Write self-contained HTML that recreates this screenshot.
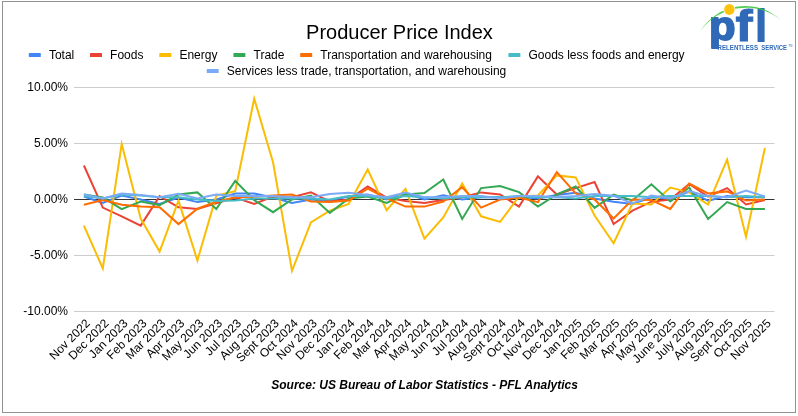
<!DOCTYPE html>
<html lang="en"><head><meta charset="utf-8"><title>Producer Price Index</title>
<style>html,body{margin:0;padding:0;background:#fff}body{width:798px;height:416px;overflow:hidden}svg{display:block}text{font-family:"Liberation Sans",Arial,sans-serif}</style></head><body>
<svg width="798" height="416" viewBox="0 0 798 416">
<rect x="0" y="0" width="798" height="416" fill="#fff"/>
<rect x="2.5" y="1.5" width="793" height="411" fill="none" stroke="#929292" stroke-width="1"/>
<text x="399.5" y="39" font-size="20" text-anchor="middle" fill="#000">Producer Price Index</text>
<rect x="28.8" y="53.1" width="12" height="4" rx="0.6" fill="#4285f4"/>
<text x="48.9" y="59.0" font-size="12" fill="#000">Total</text>
<rect x="90" y="53.1" width="12" height="4" rx="0.6" fill="#ea4335"/>
<text x="110.1" y="59.0" font-size="12" fill="#000">Foods</text>
<rect x="159.3" y="53.1" width="12" height="4" rx="0.6" fill="#fbbc04"/>
<text x="179.4" y="59.0" font-size="12" fill="#000">Energy</text>
<rect x="233.4" y="53.1" width="12" height="4" rx="0.6" fill="#34a853"/>
<text x="253.5" y="59.0" font-size="12" fill="#000">Trade</text>
<rect x="300.2" y="53.1" width="12" height="4" rx="0.6" fill="#ff6d01"/>
<text x="320.3" y="59.0" font-size="12" fill="#000">Transportation and warehousing</text>
<rect x="508.4" y="53.1" width="12" height="4" rx="0.6" fill="#46bdc6"/>
<text x="528.5" y="59.0" font-size="12" fill="#000">Goods less foods and energy</text>
<rect x="206.7" y="69.1" width="12" height="4" rx="0.6" fill="#7baaf7"/>
<text x="226.8" y="75.0" font-size="12" fill="#000">Services less trade, transportation, and warehousing</text>
<rect x="74" y="87.0" width="700.5" height="1" fill="#cccccc"/>
<rect x="74" y="143.0" width="700.5" height="1" fill="#cccccc"/>
<rect x="74" y="255.0" width="700.5" height="1" fill="#cccccc"/>
<rect x="74" y="311.0" width="700.5" height="1" fill="#cccccc"/>
<rect x="74" y="199.0" width="700.5" height="1" fill="#333333"/>
<text x="68" y="91.3" font-size="12" text-anchor="end" fill="#000">10.00%</text>
<text x="68" y="147.3" font-size="12" text-anchor="end" fill="#000">5.00%</text>
<text x="68" y="203.3" font-size="12" text-anchor="end" fill="#000">0.00%</text>
<text x="68" y="259.3" font-size="12" text-anchor="end" fill="#000">-5.00%</text>
<text x="68" y="315.3" font-size="12" text-anchor="end" fill="#000">-10.00%</text>
<polyline points="83.9,196.5 102.8,202.9 121.7,195.5 140.7,199.5 159.6,204.0 178.5,197.5 197.4,202.1 216.3,199.5 235.2,193.5 254.2,193.5 273.1,197.5 292.0,202.9 310.9,199.5 329.8,200.4 348.7,196.5 367.7,194.5 386.6,199.5 405.5,193.0 424.4,199.5 443.3,195.2 462.2,199.5 481.1,197.3 500.1,197.3 519.0,196.7 537.9,198.4 556.8,195.0 575.7,192.8 594.6,198.4 613.6,201.7 632.5,204.0 651.4,197.3 670.3,198.4 689.2,191.7 708.1,200.6 727.1,196.1 746.0,197.3 764.9,197.3" fill="none" stroke="#4285f4" stroke-width="2" stroke-linejoin="miter" stroke-miterlimit="10"/>
<polyline points="83.9,165.5 102.8,207.6 121.7,216.3 140.7,225.6 159.6,196.1 178.5,207.3 197.4,209.0 216.3,203.4 235.2,197.5 254.2,204.0 273.1,196.5 292.0,197.3 310.9,192.4 329.8,201.5 348.7,199.5 367.7,186.4 386.6,197.5 405.5,201.0 424.4,202.9 443.3,200.1 462.2,197.3 481.1,192.4 500.1,194.5 519.0,206.6 537.9,176.4 556.8,194.5 575.7,188.1 594.6,182.0 613.6,224.1 632.5,210.7 651.4,201.7 670.3,199.5 689.2,184.0 708.1,196.5 727.1,188.1 746.0,204.5 764.9,200.1" fill="none" stroke="#ea4335" stroke-width="2" stroke-linejoin="miter" stroke-miterlimit="10"/>
<polyline points="83.9,225.6 102.8,268.4 121.7,144.1 140.7,218.5 159.6,251.6 178.5,200.6 197.4,260.5 216.3,195.6 235.2,191.1 254.2,98.7 273.1,162.5 292.0,270.8 310.9,222.5 329.8,210.7 348.7,204.0 367.7,169.5 386.6,210.1 405.5,188.9 424.4,238.7 443.3,217.4 462.2,183.5 481.1,216.3 500.1,221.9 519.0,196.5 537.9,195.5 556.8,175.4 575.7,177.4 594.6,215.5 613.6,243.2 632.5,203.5 651.4,204.5 670.3,187.5 689.2,192.4 708.1,204.5 727.1,159.7 746.0,236.8 764.9,148.0" fill="none" stroke="#fbbc04" stroke-width="2" stroke-linejoin="miter" stroke-miterlimit="10"/>
<polyline points="83.9,194.5 102.8,197.5 121.7,209.2 140.7,201.5 159.6,205.1 178.5,194.5 197.4,192.4 216.3,209.0 235.2,180.9 254.2,200.1 273.1,212.2 292.0,199.5 310.9,195.5 329.8,212.9 348.7,198.4 367.7,196.5 386.6,202.9 405.5,194.5 424.4,193.0 443.3,179.5 462.2,218.9 481.1,188.1 500.1,186.1 519.0,192.1 537.9,206.6 556.8,194.5 575.7,186.5 594.6,207.9 613.6,194.7 632.5,200.4 651.4,184.3 670.3,201.5 689.2,187.5 708.1,218.9 727.1,202.1 746.0,208.9 764.9,208.9" fill="none" stroke="#34a853" stroke-width="2" stroke-linejoin="miter" stroke-miterlimit="10"/>
<polyline points="83.9,204.8 102.8,200.1 121.7,204.8 140.7,206.6 159.6,207.3 178.5,224.1 197.4,208.7 216.3,201.7 235.2,197.3 254.2,196.7 273.1,195.5 292.0,194.5 310.9,201.5 329.8,202.1 348.7,200.6 367.7,188.6 386.6,198.4 405.5,206.6 424.4,206.6 443.3,201.5 462.2,187.2 481.1,207.6 500.1,199.5 519.0,197.5 537.9,202.1 556.8,172.1 575.7,193.5 594.6,199.5 613.6,218.5 632.5,199.5 651.4,200.1 670.3,208.9 689.2,183.5 708.1,193.5 727.1,191.4 746.0,200.6 764.9,199.5" fill="none" stroke="#ff6d01" stroke-width="2" stroke-linejoin="miter" stroke-miterlimit="10"/>
<polyline points="83.9,196.1 102.8,198.4 121.7,194.5 140.7,195.6 159.6,197.3 178.5,197.3 197.4,199.5 216.3,201.0 235.2,200.4 254.2,198.4 273.1,198.4 292.0,198.4 310.9,198.4 329.8,199.5 348.7,196.1 367.7,196.1 386.6,198.4 405.5,196.1 424.4,197.3 443.3,198.4 462.2,197.3 481.1,197.3 500.1,197.3 519.0,196.1 537.9,197.3 556.8,197.3 575.7,198.4 594.6,196.1 613.6,196.1 632.5,196.1 651.4,197.3 670.3,196.1 689.2,196.1 708.1,196.1 727.1,197.3 746.0,196.1 764.9,197.3" fill="none" stroke="#46bdc6" stroke-width="2" stroke-linejoin="miter" stroke-miterlimit="10"/>
<polyline points="83.9,194.5 102.8,198.4 121.7,193.5 140.7,195.0 159.6,197.3 178.5,193.7 197.4,198.4 216.3,194.5 235.2,196.1 254.2,196.1 273.1,196.1 292.0,197.3 310.9,197.3 329.8,193.9 348.7,192.8 367.7,195.0 386.6,197.3 405.5,192.6 424.4,197.3 443.3,197.3 462.2,196.1 481.1,196.1 500.1,198.4 519.0,196.1 537.9,196.1 556.8,197.3 575.7,196.1 594.6,193.9 613.6,195.8 632.5,203.4 651.4,195.6 670.3,198.4 689.2,191.1 708.1,196.1 727.1,197.3 746.0,190.5 764.9,196.5" fill="none" stroke="#7baaf7" stroke-width="2" stroke-linejoin="miter" stroke-miterlimit="10"/>
<text transform="translate(90.6,324.1) rotate(-45)" font-size="12" text-anchor="end" fill="#000">Nov 2022</text>
<text transform="translate(109.5,324.1) rotate(-45)" font-size="12" text-anchor="end" fill="#000">Dec 2022</text>
<text transform="translate(128.4,324.1) rotate(-45)" font-size="12" text-anchor="end" fill="#000">Jan 2023</text>
<text transform="translate(147.4,324.1) rotate(-45)" font-size="12" text-anchor="end" fill="#000">Feb 2023</text>
<text transform="translate(166.3,324.1) rotate(-45)" font-size="12" text-anchor="end" fill="#000">Mar 2023</text>
<text transform="translate(185.2,324.1) rotate(-45)" font-size="12" text-anchor="end" fill="#000">Apr 2023</text>
<text transform="translate(204.1,324.1) rotate(-45)" font-size="12" text-anchor="end" fill="#000">May 2023</text>
<text transform="translate(223.0,324.1) rotate(-45)" font-size="12" text-anchor="end" fill="#000">Jun 2023</text>
<text transform="translate(241.9,324.1) rotate(-45)" font-size="12" text-anchor="end" fill="#000">Jul 2023</text>
<text transform="translate(260.9,324.1) rotate(-45)" font-size="12" text-anchor="end" fill="#000">Aug 2023</text>
<text transform="translate(279.8,324.1) rotate(-45)" font-size="12" text-anchor="end" fill="#000">Sept 2023</text>
<text transform="translate(298.7,324.1) rotate(-45)" font-size="12" text-anchor="end" fill="#000">Oct 2024</text>
<text transform="translate(317.6,324.1) rotate(-45)" font-size="12" text-anchor="end" fill="#000">Nov 2023</text>
<text transform="translate(336.5,324.1) rotate(-45)" font-size="12" text-anchor="end" fill="#000">Dec 2023</text>
<text transform="translate(355.4,324.1) rotate(-45)" font-size="12" text-anchor="end" fill="#000">Jan 2024</text>
<text transform="translate(374.4,324.1) rotate(-45)" font-size="12" text-anchor="end" fill="#000">Feb 2024</text>
<text transform="translate(393.3,324.1) rotate(-45)" font-size="12" text-anchor="end" fill="#000">Mar 2024</text>
<text transform="translate(412.2,324.1) rotate(-45)" font-size="12" text-anchor="end" fill="#000">Apr 2024</text>
<text transform="translate(431.1,324.1) rotate(-45)" font-size="12" text-anchor="end" fill="#000">May 2024</text>
<text transform="translate(450.0,324.1) rotate(-45)" font-size="12" text-anchor="end" fill="#000">Jun 2024</text>
<text transform="translate(468.9,324.1) rotate(-45)" font-size="12" text-anchor="end" fill="#000">Jul 2024</text>
<text transform="translate(487.8,324.1) rotate(-45)" font-size="12" text-anchor="end" fill="#000">Aug 2024</text>
<text transform="translate(506.8,324.1) rotate(-45)" font-size="12" text-anchor="end" fill="#000">Sept 2024</text>
<text transform="translate(525.7,324.1) rotate(-45)" font-size="12" text-anchor="end" fill="#000">Oct 2024</text>
<text transform="translate(544.6,324.1) rotate(-45)" font-size="12" text-anchor="end" fill="#000">Nov 2024</text>
<text transform="translate(563.5,324.1) rotate(-45)" font-size="12" text-anchor="end" fill="#000">Dec 2024</text>
<text transform="translate(582.4,324.1) rotate(-45)" font-size="12" text-anchor="end" fill="#000">Jan 2025</text>
<text transform="translate(601.3,324.1) rotate(-45)" font-size="12" text-anchor="end" fill="#000">Feb 2025</text>
<text transform="translate(620.3,324.1) rotate(-45)" font-size="12" text-anchor="end" fill="#000">Mar 2025</text>
<text transform="translate(639.2,324.1) rotate(-45)" font-size="12" text-anchor="end" fill="#000">Apr 2025</text>
<text transform="translate(658.1,324.1) rotate(-45)" font-size="12" text-anchor="end" fill="#000">May 2025</text>
<text transform="translate(677.0,324.1) rotate(-45)" font-size="12" text-anchor="end" fill="#000">June 2025</text>
<text transform="translate(695.9,324.1) rotate(-45)" font-size="12" text-anchor="end" fill="#000">July 2025</text>
<text transform="translate(714.8,324.1) rotate(-45)" font-size="12" text-anchor="end" fill="#000">Aug 2025</text>
<text transform="translate(733.8,324.1) rotate(-45)" font-size="12" text-anchor="end" fill="#000">Sept 2025</text>
<text transform="translate(752.7,324.1) rotate(-45)" font-size="12" text-anchor="end" fill="#000">Oct 2025</text>
<text transform="translate(771.6,324.1) rotate(-45)" font-size="12" text-anchor="end" fill="#000">Nov 2025</text>
<text x="424.6" y="388.7" font-size="12" font-weight="bold" font-style="italic" text-anchor="middle" fill="#000">Source: US Bureau of Labor Statistics - PFL Analytics</text>
<g id="logo">
<clipPath id="pc"><rect x="700" y="0" width="98" height="50.1"/></clipPath>
<g clip-path="url(#pc)"><text transform="translate(708.88,40.1) scale(1.053,1)" font-size="41.3" font-weight="bold" fill="#2f69b7" stroke="#2f69b7" stroke-width="1.8" stroke-linejoin="round">p</text></g>
<text transform="translate(735.5,41.1) scale(1.138,1)" font-size="45.2" font-weight="bold" fill="#2f69b7" stroke="#2f69b7" stroke-width="1" stroke-linejoin="miter">f</text>
<text transform="translate(754.1,41.6) scale(1.103,1)" font-size="46.3" font-weight="bold" fill="#2f69b7">l</text>
<path d="M700 31.5 A52.8 52.8 0 0 1 781.5 20.5 A56 56 0 0 0 700 31.5 Z" fill="#3cc83c" opacity="0.9"/>
<ellipse cx="729.35" cy="9.4" rx="6" ry="6.3" fill="#fff"/>
<ellipse cx="729.35" cy="9.4" rx="5.15" ry="5.5" fill="#fdc20c"/>
<text x="717.6" y="49.9" font-size="6.7" font-weight="bold" fill="#2f69b7" textLength="40.4" lengthAdjust="spacingAndGlyphs">RELENTLESS</text>
<text x="761.3" y="49.9" font-size="6.7" font-weight="bold" fill="#2f69b7" textLength="25.7" lengthAdjust="spacingAndGlyphs">SERVICE</text>
<text x="788.6" y="46.6" font-size="2.6" font-weight="bold" fill="#2f69b7" opacity="0.7">TM</text>
</g>
</svg></body></html>
